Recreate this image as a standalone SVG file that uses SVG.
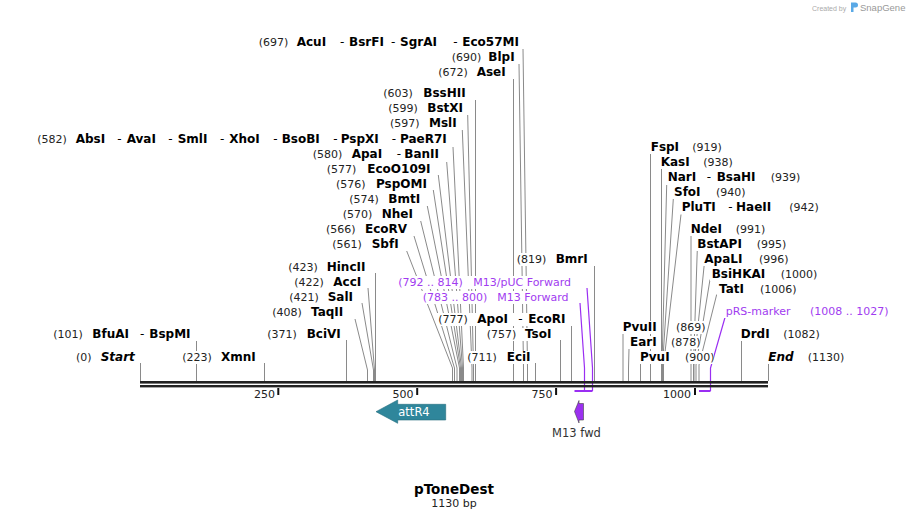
<svg xmlns="http://www.w3.org/2000/svg" width="909" height="520" viewBox="0 0 909 520">
<style>
text{font-family:"DejaVu Sans","Liberation Sans",sans-serif}
.n{font-size:11px;fill:#222}
.e{font-size:12px;font-weight:bold;fill:#000}
.d{font-size:12px;fill:#000}
.i{font-size:12px;font-weight:bold;font-style:italic;fill:#000}
.p{font-size:11px;fill:#a13cf0}
.bg{fill:#fff}
.cl{fill:none;stroke:#8a8a8a;stroke-width:1}
.pl{fill:none;stroke:#9a2ef2;stroke-width:1.2}
.pb{fill:none;stroke:#9a2ef2;stroke-width:2}
.tk{stroke:#111;stroke-width:2}
.tl{font-size:11px;fill:#222;text-anchor:end}
</style>
<rect width="909" height="520" fill="#fff"/>
<g id="connectors">
<path class="cl" d="M140.5,363V381M196.5,341V381M264.5,363V381M346.5,340V381M355,319L367.5,370V381M362,303L373.5,370V381M368,288L374.5,370V381M375.5,273V381"/>
<path class="cl" d="M406.7,251L452.5,368V381M414,236L454.5,368V381M420.7,221L457,368V381M427.3,206L459.5,368V381M433.3,190L460.5,368V381M438.3,175L461.5,368V381M446.7,162L462.5,368V381M453,147L463.5,368V381M462.3,130L472,368V381M467.7,115L473.5,368V381M475.5,100V381"/>
<path class="cl" d="M513.5,79V381M519,64L523.5,368V381M523,49L527.5,368V381M535.5,363V381M560.5,340V381M571.5,326V381M594.5,266V381"/>
<path class="cl" d="M623,334V381M629,349L628.5,368V381M640.5,364V381M650.5,154V381M661.5,169V381M666.7,185L662,365V381M673.3,199L662.5,365V381M681,214.5L663.5,365V381M691,236V381M697.3,249.5L693.5,365V381M704.3,264L694,365V381M710,279.5L696,365V381M716.7,294.5L699,365V381M741.5,341V381M768.5,363V381"/>
<path class="pl" d="M587,288L592.5,368V391M580,303L584.5,368V391M725,317.5L710.5,368V391"/>
<path class="pb" d="M574.5,391H592.5M699,391H710.5"/>
</g>
<g id="backbone">
<rect x="140" y="381" width="628" height="2.6" fill="#222"/>
<rect x="140" y="385" width="628" height="2.4" fill="#222"/>
<path class="tk" d="M278.3,388V395M417.2,388V395M556.1,388V395M695,388V395"/>
<text class="tl" x="275" y="398">250</text>
<text class="tl" x="413.5" y="398">500</text>
<text class="tl" x="552.5" y="398">750</text>
<text class="tl" x="691" y="398">1000</text>
</g>
<g id="labels">
<g id="l-AcuI"><rect class="bg" x="257" y="36" width="265" height="13"/><text y="46"><tspan class="n" x="258.7">(697)</tspan><tspan class="e" x="296.7">AcuI</tspan><tspan class="d" x="340">-</tspan><tspan class="e" x="349">BsrFI</tspan><tspan class="d" x="391">-</tspan><tspan class="e" x="400">SgrAI</tspan><tspan class="d" x="453.3">-</tspan><tspan class="e" x="462.3">Eco57MI</tspan></text></g>
<g id="l-BlpI"><rect class="bg" x="450" y="51" width="68" height="13"/><text y="61"><tspan class="n" x="451.7">(690)</tspan><tspan class="e" x="488.3">BlpI</tspan></text></g>
<g id="l-AseI"><rect class="bg" x="437" y="66" width="70" height="13"/><text y="76"><tspan class="n" x="438.3">(672)</tspan><tspan class="e" x="476.7">AseI</tspan></text></g>
<g id="l-BssHII"><rect class="bg" x="382" y="87" width="89" height="13"/><text y="97"><tspan class="n" x="383.3">(603)</tspan><tspan class="e" x="423.3">BssHII</tspan></text></g>
<g id="l-BstXI"><rect class="bg" x="387" y="102" width="77" height="13"/><text y="112"><tspan class="n" x="388.3">(599)</tspan><tspan class="e" x="427.3">BstXI</tspan></text></g>
<g id="l-MslI"><rect class="bg" x="389" y="117" width="69" height="13"/><text y="127"><tspan class="n" x="390">(597)</tspan><tspan class="e" x="429">MslI</tspan></text></g>
<g id="l-AbsI"><rect class="bg" x="36" y="133" width="412" height="13"/><text y="143"><tspan class="n" x="37.3">(582)</tspan><tspan class="e" x="75.7">AbsI</tspan><tspan class="d" x="117.3">-</tspan><tspan class="e" x="126.7">AvaI</tspan><tspan class="d" x="168.3">-</tspan><tspan class="e" x="177.7">SmlI</tspan><tspan class="d" x="220">-</tspan><tspan class="e" x="229.3">XhoI</tspan><tspan class="d" x="273.3">-</tspan><tspan class="e" x="281.7">BsoBI</tspan><tspan class="d" x="333.3">-</tspan><tspan class="e" x="340.7">PspXI</tspan><tspan class="d" x="391.7">-</tspan><tspan class="e" x="400">PaeR7I</tspan></text></g>
<g id="l-ApaI"><rect class="bg" x="311" y="148" width="129" height="13"/><text y="158"><tspan class="n" x="312.7">(580)</tspan><tspan class="e" x="351.7">ApaI</tspan><tspan class="d" x="396.7">-</tspan><tspan class="e" x="404.3">BanII</tspan></text></g>
<g id="l-EcoO109I"><rect class="bg" x="325" y="163" width="108" height="13"/><text y="173"><tspan class="n" x="326.7">(577)</tspan><tspan class="e" x="367.3">EcoO109I</tspan></text></g>
<g id="l-PspOMI"><rect class="bg" x="335" y="178" width="91" height="13"/><text y="188"><tspan class="n" x="336">(576)</tspan><tspan class="e" x="376">PspOMI</tspan></text></g>
<g id="l-BmtI"><rect class="bg" x="348" y="193" width="73" height="13"/><text y="203"><tspan class="n" x="349.3">(574)</tspan><tspan class="e" x="388.3">BmtI</tspan></text></g>
<g id="l-NheI"><rect class="bg" x="341" y="208" width="73" height="13"/><text y="218"><tspan class="n" x="342.7">(570)</tspan><tspan class="e" x="381.7">NheI</tspan></text></g>
<g id="l-EcoRV"><rect class="bg" x="325" y="223" width="82" height="13"/><text y="233"><tspan class="n" x="326">(566)</tspan><tspan class="e" x="365">EcoRV</tspan></text></g>
<g id="l-SbfI"><rect class="bg" x="331" y="238" width="68" height="13"/><text y="248"><tspan class="n" x="332.3">(561)</tspan><tspan class="e" x="371.7">SbfI</tspan></text></g>
<g id="l-BmrI"><rect class="bg" x="515" y="253" width="75" height="13"/><text y="263"><tspan class="n" x="516.7">(819)</tspan><tspan class="e" x="555.7">BmrI</tspan></text></g>
<g id="l-HincII"><rect class="bg" x="287" y="261" width="83" height="13"/><text y="271"><tspan class="n" x="288.3">(423)</tspan><tspan class="e" x="326.7">HincII</tspan></text></g>
<g id="l-M13pUC"><rect class="bg" x="397" y="276" width="184" height="13"/><text y="286"><tspan class="p" x="398.3">(792 .. 814)</tspan><tspan class="p" x="473.3">M13/pUC Forward</tspan></text></g>
<g id="l-AccI"><rect class="bg" x="293" y="276" width="71" height="13"/><text y="286"><tspan class="n" x="294.3">(422)</tspan><tspan class="e" x="333.3">AccI</tspan></text></g>
<g id="l-M13F"><rect class="bg" x="421" y="291" width="154" height="13"/><text y="301"><tspan class="p" x="422.7">(783 .. 800)</tspan><tspan class="p" x="497.3">M13 Forward</tspan></text></g>
<g id="l-SalI"><rect class="bg" x="288" y="291" width="68" height="13"/><text y="301"><tspan class="n" x="289.3">(421)</tspan><tspan class="e" x="327.7">SalI</tspan></text></g>
<g id="l-TaqII"><rect class="bg" x="271" y="306" width="78" height="13"/><text y="316"><tspan class="n" x="272.3">(408)</tspan><tspan class="e" x="311">TaqII</tspan></text></g>
<g id="l-ApoI"><rect class="bg" x="437" y="313" width="131" height="13"/><text y="323"><tspan class="n" x="438.3">(777)</tspan><tspan class="e" x="477.3">ApoI</tspan><tspan class="d" x="518.3">-</tspan><tspan class="e" x="528.3">EcoRI</tspan></text></g>
<g id="l-TsoI"><rect class="bg" x="485" y="328" width="70" height="13"/><text y="338"><tspan class="n" x="486.7">(757)</tspan><tspan class="e" x="525">TsoI</tspan></text></g>
<g id="l-BfuAI"><rect class="bg" x="52" y="328" width="140" height="13"/><text y="338"><tspan class="n" x="53.3">(101)</tspan><tspan class="e" x="92.3">BfuAI</tspan><tspan class="d" x="140">-</tspan><tspan class="e" x="149.3">BspMI</tspan></text></g>
<g id="l-BciVI"><rect class="bg" x="266" y="328" width="76" height="13"/><text y="338"><tspan class="n" x="267.3">(371)</tspan><tspan class="e" x="306.7">BciVI</tspan></text></g>
<g id="l-EciI"><rect class="bg" x="466" y="351" width="66" height="13"/><text y="361"><tspan class="n" x="467.3">(711)</tspan><tspan class="e" x="506.7">EciI</tspan></text></g>
<g id="l-Start"><rect class="bg" x="75" y="351" width="60" height="13"/><text y="361"><tspan class="n" x="76">(0)</tspan><tspan class="i" x="100.7">Start</tspan></text></g>
<g id="l-XmnI"><rect class="bg" x="181" y="351" width="78" height="13"/><text y="361"><tspan class="n" x="182.3">(223)</tspan><tspan class="e" x="221">XmnI</tspan></text></g>
<g id="l-FspI"><rect class="bg" x="649" y="141" width="35" height="13"/><rect class="bg" x="691" y="141" width="31" height="13"/><text y="151"><tspan class="e" x="650.7">FspI</tspan><tspan class="n" x="692.3">(919)</tspan></text></g>
<g id="l-KasI"><rect class="bg" x="659" y="156" width="35" height="13"/><rect class="bg" x="702" y="156" width="31" height="13"/><text y="166"><tspan class="e" x="660.7">KasI</tspan><tspan class="n" x="703.3">(938)</tspan></text></g>
<g id="l-NarI"><rect class="bg" x="666" y="171" width="96" height="13"/><rect class="bg" x="769" y="171" width="31" height="13"/><text y="181"><tspan class="e" x="667.7">NarI</tspan><tspan class="d" x="706.7">-</tspan><tspan class="e" x="716.7">BsaHI</tspan><tspan class="n" x="770.7">(939)</tspan></text></g>
<g id="l-SfoI"><rect class="bg" x="672" y="186" width="34" height="13"/><rect class="bg" x="714" y="186" width="31" height="13"/><text y="196"><tspan class="e" x="674">SfoI</tspan><tspan class="n" x="716">(940)</tspan></text></g>
<g id="l-PluTI"><rect class="bg" x="680" y="201" width="102" height="13"/><rect class="bg" x="788" y="201" width="31" height="13"/><text y="211"><tspan class="e" x="681.7">PluTI</tspan><tspan class="d" x="728.3">-</tspan><tspan class="e" x="736">HaeII</tspan><tspan class="n" x="789.3">(942)</tspan></text></g>
<g id="l-NdeI"><rect class="bg" x="689" y="223" width="37" height="13"/><rect class="bg" x="734" y="223" width="31" height="13"/><text y="233"><tspan class="e" x="690.7">NdeI</tspan><tspan class="n" x="735.7">(991)</tspan></text></g>
<g id="l-BstAPI"><rect class="bg" x="696" y="238" width="50" height="13"/><rect class="bg" x="755" y="238" width="31" height="13"/><text y="248"><tspan class="e" x="697.3">BstAPI</tspan><tspan class="n" x="756.7">(995)</tspan></text></g>
<g id="l-ApaLI"><rect class="bg" x="703" y="253" width="44" height="13"/><rect class="bg" x="757" y="253" width="31" height="13"/><text y="263"><tspan class="e" x="704.3">ApaLI</tspan><tspan class="n" x="759">(996)</tspan></text></g>
<g id="l-BsiHKAI"><rect class="bg" x="710" y="268" width="59" height="13"/><rect class="bg" x="779" y="268" width="38" height="13"/><text y="278"><tspan class="e" x="711.7">BsiHKAI</tspan><tspan class="n" x="780.7">(1000)</tspan></text></g>
<g id="l-TatI"><rect class="bg" x="717" y="283" width="32" height="13"/><rect class="bg" x="758" y="283" width="38" height="13"/><text y="293"><tspan class="e" x="719">TatI</tspan><tspan class="n" x="760">(1006)</tspan></text></g>
<g id="l-pRS"><rect class="bg" x="724" y="305" width="167" height="13"/><text y="315"><tspan class="p" x="725.7">pRS-marker</tspan><tspan class="p" x="810">(1008 .. 1027)</tspan></text></g>
<g id="l-PvuII"><rect class="bg" x="621" y="321" width="38" height="13"/><rect class="bg" x="674" y="321" width="31" height="13"/><text y="331"><tspan class="e" x="622.7">PvuII</tspan><tspan class="n" x="676">(869)</tspan></text></g>
<g id="l-DrdI"><rect class="bg" x="739" y="328" width="80" height="13"/><text y="338"><tspan class="e" x="740.7">DrdI</tspan><tspan class="n" x="783.3">(1082)</tspan></text></g>
<g id="l-EarI"><rect class="bg" x="628" y="336" width="32" height="13"/><rect class="bg" x="669" y="336" width="31" height="13"/><text y="346"><tspan class="e" x="630">EarI</tspan><tspan class="n" x="671">(878)</tspan></text></g>
<g id="l-PvuI"><rect class="bg" x="638" y="351" width="34" height="13"/><rect class="bg" x="683" y="351" width="31" height="13"/><text y="361"><tspan class="e" x="640">PvuI</tspan><tspan class="n" x="685">(900)</tspan></text></g>
<g id="l-End"><rect class="bg" x="767" y="351" width="77" height="13"/><text y="361"><tspan class="i" x="768.3">End</tspan><tspan class="n" x="807.7">(1130)</tspan></text></g>
</g>
<g id="attR4">
<polygon points="376,411.7 397.7,400 397.7,404.3 445.7,404.3 445.7,420 397.7,420 397.7,423.3" fill="#2f869b" stroke="#256d7e" stroke-width="0.6"/>
<text x="414" y="416" text-anchor="middle" style="font-size:11.5px;fill:#fff">attR4</text>
</g>
<g id="M13fwd">
<polygon points="574.5,411.5 579,400.5 579,403.5 583.5,403.5 583.5,420 579,420 579,423" fill="#9b30f0" stroke="#444" stroke-width="0.6"/>
<text x="576.5" y="437" text-anchor="middle" style="font-size:11.5px;fill:#333">M13 fwd</text>
</g>
<g id="title">
<text x="454" y="494" text-anchor="middle" style="font-size:13.5px;font-weight:bold;fill:#000">pToneDest</text>
<text x="454" y="507" text-anchor="middle" style="font-size:11px;fill:#222">1130 bp</text>
</g>
<g id="credit">
<text x="812" y="10.5" style="font-family:'Liberation Sans',sans-serif;font-size:7px;fill:#aaa">Created by</text>
<path d="M851,2.5h4.5a2.5,2.5 0 0 1 0,5h-2v4.5h-2.5z" fill="#5aa9e6"/>
<text x="860" y="11" style="font-family:'Liberation Sans',sans-serif;font-size:9.5px;fill:#999">SnapGene</text>
</g>
</svg>
